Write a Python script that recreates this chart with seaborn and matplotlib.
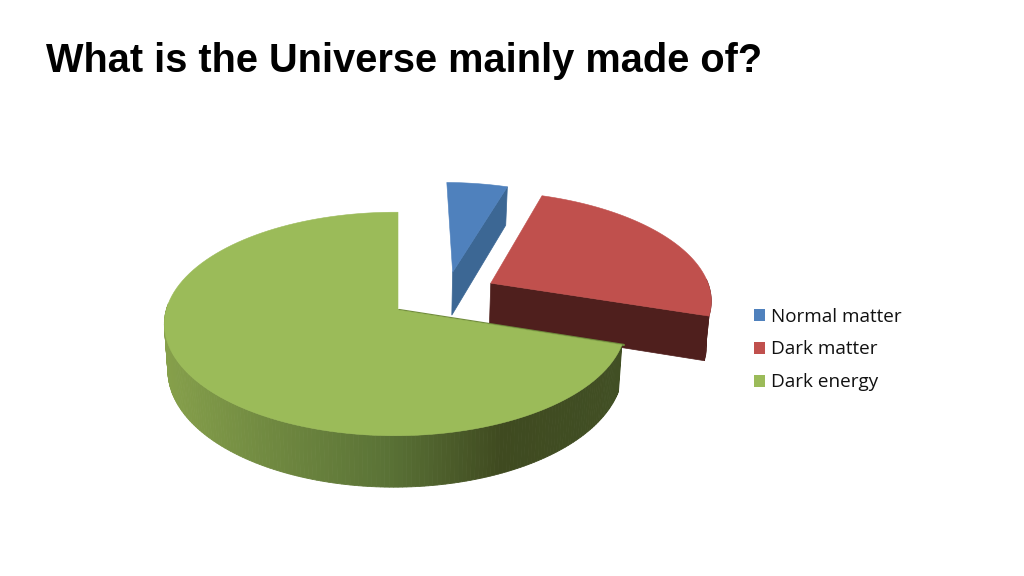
import numpy as np
import matplotlib
matplotlib.use("Agg")
import matplotlib.pyplot as plt
from matplotlib.colors import LinearSegmentedColormap
from matplotlib.patches import Patch
import seaborn as sns

sns.set_style("white")
plt.rcParams["font.family"] = ["Liberation Sans", "DejaVu Sans"]

# chart data
labels = ["Normal matter", "Dark matter", "Dark energy"]
shares = [5, 25, 70]
top_colors = sns.color_palette(["#4f81bd", "#c0504d", "#9bbb59"])
side_colors = ["#3c6794", "#4f1f1d", "#556b30"]
explode_x = [0.25, 0.42, 0.0]
explode_y = [0.36, 0.253, 0.0]

# fake 3d camera, in pixels
cx, cy = 398, 310
rx, ry = 229, 110
persp = 0.125
persp_x = 0.012
depth = 45
shrink = 0.985

shade = LinearSegmentedColormap.from_list(
    "wall", ["#86a04b", "#6f8840", "#5a7236", "#3f4a20", "#414f24"])


def project(x, y, low=False):
    f = 1 / (1 + persp * y + persp_x * x)
    sx = rx * x * f
    sy = cy - ry * y * f
    if low:
        return cx + sx * shrink, sy + depth * f
    return cx + sx, sy


def arc(a0, a1, ox, oy, n=120):
    t = np.radians(np.linspace(a0, a1, n))
    return ox + np.cos(t), oy + np.sin(t)


fig = plt.figure(figsize=(10.24, 5.76), dpi=100)
ax = fig.add_axes([0, 0, 1, 1])
ax.set_xlim(0, 1024)
ax.set_ylim(576, 0)
ax.axis("off")

ends = 90 - np.cumsum(shares) * 3.6
starts = np.r_[90, ends[:-1]]

# slices back to front
for i in [0, 1, 2]:
    a0, a1 = starts[i], ends[i]
    ox, oy = explode_x[i], explode_y[i]
    fx, fy = ox + np.cos(np.radians(a1)), oy + np.sin(np.radians(a1))

    if i < 2:
        # cut face on the clockwise edge
        xs, ys = zip(project(ox, oy), project(fx, fy),
                     project(fx, fy, True), project(ox, oy, True))
        ax.fill(xs, ys, color=side_colors[i], lw=0.5, zorder=2 + i)
    if i == 1:
        # outer rim of the red slice only shows as a sliver
        ax_, ay_ = arc(a0, a1, ox, oy)
        xs_top, ys_top = project(ax_, ay_)
        xs_low, ys_low = project(ax_, ay_, True)
        mask = ay_ < oy + 0.05
        ax.fill(np.r_[xs_top[mask], xs_low[mask][::-1]],
                np.r_[ys_top[mask], ys_low[mask][::-1]],
                color=side_colors[i], lw=0.5, zorder=2 + i)
    if i == 2:
        # rim with a left to right shading, only the front part is seen
        ax_, ay_ = arc(a0, a1, ox, oy, 260)
        xs_top, ys_top = project(ax_, ay_)
        xs_low, ys_low = project(ax_, ay_, True)
        for j in range(len(ax_) - 1):
            if ay_[j] > 0.05:
                continue
            c = shade((xs_top[j] - 163) / (618 - 163))
            ax.fill([xs_top[j], xs_top[j + 1], xs_low[j + 1], xs_low[j]],
                    [ys_top[j], ys_top[j + 1], ys_low[j + 1], ys_low[j]],
                    color=c, lw=0.6, zorder=4)

    ax_, ay_ = arc(a0, a1, ox, oy)
    xs, ys = project(ax_, ay_)
    px, py = project(ox, oy)
    ax.fill(np.r_[px, xs], np.r_[py, ys], color=top_colors[i], lw=0.4, zorder=5 + i)

# thin dark edge at the start of the green slice
sx0, sy0 = project(0, 0)
sx1, sy1 = project(explode_x[2] + np.cos(np.radians(starts[2])),
                   explode_y[2] + np.sin(np.radians(starts[2])))
ax.plot([sx0 + 1, sx1 + 2], [sy0, sy1], color="#6f8a3c", lw=1.6, zorder=4)

ax.text(46, 61, "What is the Universe mainly made of?", fontsize=28.6,
        fontweight="bold", color="black", va="center", ha="left")

handles = [Patch(facecolor=c, edgecolor="none") for c in top_colors]
ax.legend(handles, labels, loc="center left", bbox_to_anchor=(746, 349.5),
          bbox_transform=ax.transData, frameon=False, labelcolor="#111111",
          prop={"family": "Open Sans", "size": 13.6},
          handlelength=0.6, handleheight=0.6, handletextpad=0.3, labelspacing=0.78,
          borderpad=0, borderaxespad=0.4)

fig.savefig("out.png", dpi=100)
